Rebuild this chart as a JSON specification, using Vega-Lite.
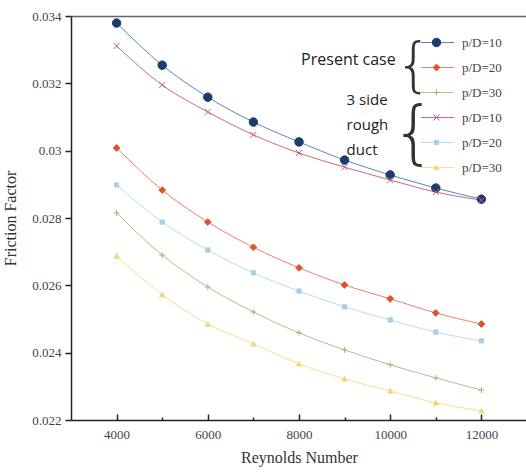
{
  "$schema": "https://vega.github.io/schema/vega-lite/v6.json",
  "autosize": "none",
  "width": 456,
  "height": 404,
  "padding": {"left": 71, "top": 16, "right": 0, "bottom": 53},
  "background": "white",
  "config": {"view": {"stroke": null}},
  "resolve": {"axis": {"x": "independent"}},
  "datasets": {
    "friction": [
      {"Re": 4000, "f": 0.03379, "series": "1 Present p/D=10", "line": "1 Present p/D=10"},
      {"Re": 5000, "f": 0.03254, "series": "1 Present p/D=10", "line": "1 Present p/D=10"},
      {"Re": 6000, "f": 0.03159, "series": "1 Present p/D=10", "line": "1 Present p/D=10"},
      {"Re": 7000, "f": 0.03085, "series": "1 Present p/D=10", "line": "1 Present p/D=10"},
      {"Re": 8000, "f": 0.03026, "series": "1 Present p/D=10", "line": "1 Present p/D=10"},
      {"Re": 9000, "f": 0.02972, "series": "1 Present p/D=10", "line": "1 Present p/D=10"},
      {"Re": 10000, "f": 0.02928, "series": "1 Present p/D=10", "line": "1 Present p/D=10"},
      {"Re": 11000, "f": 0.02889, "series": "1 Present p/D=10", "line": "1 Present p/D=10"},
      {"Re": 12000, "f": 0.02856, "series": "1 Present p/D=10", "line": "1 Present p/D=10"},
      {"Re": 4000, "f": 0.03008, "series": "2 Present p/D=20", "line": "2 Present p/D=20"},
      {"Re": 5000, "f": 0.02883, "series": "2 Present p/D=20", "line": "2 Present p/D=20"},
      {"Re": 6000, "f": 0.02788, "series": "2 Present p/D=20", "line": "2 Present p/D=20"},
      {"Re": 7000, "f": 0.02713, "series": "2 Present p/D=20", "line": "2 Present p/D=20"},
      {"Re": 8000, "f": 0.02652, "series": "2 Present p/D=20", "line": "2 Present p/D=20"},
      {"Re": 9000, "f": 0.02601, "series": "2 Present p/D=20", "line": "2 Present p/D=20"},
      {"Re": 10000, "f": 0.0256, "series": "2 Present p/D=20", "line": "2 Present p/D=20"},
      {"Re": 11000, "f": 0.02518, "series": "2 Present p/D=20", "line": "2 Present p/D=20"},
      {"Re": 12000, "f": 0.02485, "series": "2 Present p/D=20", "line": "2 Present p/D=20"},
      {"Re": 4000, "f": 0.02815, "series": "3 Present p/D=30", "line": "3 Present p/D=30"},
      {"Re": 5000, "f": 0.0269, "series": "3 Present p/D=30", "line": "3 Present p/D=30"},
      {"Re": 6000, "f": 0.02595, "series": "3 Present p/D=30", "line": "3 Present p/D=30"},
      {"Re": 7000, "f": 0.02521, "series": "3 Present p/D=30", "line": "3 Present p/D=30"},
      {"Re": 8000, "f": 0.02459, "series": "3 Present p/D=30", "line": "3 Present p/D=30"},
      {"Re": 9000, "f": 0.02408, "series": "3 Present p/D=30", "line": "3 Present p/D=30"},
      {"Re": 10000, "f": 0.02364, "series": "3 Present p/D=30", "line": "3 Present p/D=30"},
      {"Re": 11000, "f": 0.02325, "series": "3 Present p/D=30", "line": "3 Present p/D=30"},
      {"Re": 12000, "f": 0.02289, "series": "3 Present p/D=30", "line": "3 Present p/D=30"},
      {"Re": 4000, "f": 0.03311, "series": "4 Rough p/D=10", "line": "4 Rough p/D=10"},
      {"Re": 5000, "f": 0.03195, "series": "4 Rough p/D=10", "line": "4 Rough p/D=10"},
      {"Re": 6000, "f": 0.03115, "series": "4 Rough p/D=10", "line": "4 Rough p/D=10"},
      {"Re": 7000, "f": 0.03047, "series": "4 Rough p/D=10", "line": "4 Rough p/D=10"},
      {"Re": 8000, "f": 0.02993, "series": "4 Rough p/D=10", "line": "4 Rough p/D=10"},
      {"Re": 9000, "f": 0.02951, "series": "4 Rough p/D=10", "line": "4 Rough p/D=10"},
      {"Re": 10000, "f": 0.02913, "series": "4 Rough p/D=10", "line": "4 Rough p/D=10"},
      {"Re": 11000, "f": 0.02877, "series": "4 Rough p/D=10", "line": "4 Rough p/D=10"},
      {"Re": 12000, "f": 0.02853, "series": "4 Rough p/D=10", "line": "4 Rough p/D=10"},
      {"Re": 4000, "f": 0.02898, "series": "5 Rough p/D=20", "line": "5 Rough p/D=20"},
      {"Re": 5000, "f": 0.02788, "series": "5 Rough p/D=20", "line": "5 Rough p/D=20"},
      {"Re": 6000, "f": 0.02705, "series": "5 Rough p/D=20", "line": "5 Rough p/D=20"},
      {"Re": 7000, "f": 0.02637, "series": "5 Rough p/D=20", "line": "5 Rough p/D=20"},
      {"Re": 8000, "f": 0.02583, "series": "5 Rough p/D=20", "line": "5 Rough p/D=20"},
      {"Re": 9000, "f": 0.02536, "series": "5 Rough p/D=20", "line": "5 Rough p/D=20"},
      {"Re": 10000, "f": 0.02497, "series": "5 Rough p/D=20", "line": "5 Rough p/D=20"},
      {"Re": 11000, "f": 0.02461, "series": "5 Rough p/D=20", "line": "5 Rough p/D=20"},
      {"Re": 12000, "f": 0.02435, "series": "5 Rough p/D=20", "line": "5 Rough p/D=20"},
      {"Re": 4000, "f": 0.02687, "series": "6 Rough p/D=30", "line": "6 Rough p/D=30"},
      {"Re": 5000, "f": 0.02572, "series": "6 Rough p/D=30", "line": "6 Rough p/D=30"},
      {"Re": 6000, "f": 0.02485, "series": "6 Rough p/D=30", "line": "6 Rough p/D=30"},
      {"Re": 7000, "f": 0.02426, "series": "6 Rough p/D=30", "line": "6 Rough p/D=30"},
      {"Re": 8000, "f": 0.02367, "series": "6 Rough p/D=30", "line": "6 Rough p/D=30"},
      {"Re": 9000, "f": 0.02322, "series": "6 Rough p/D=30", "line": "6 Rough p/D=30"},
      {"Re": 10000, "f": 0.02286, "series": "6 Rough p/D=30", "line": "6 Rough p/D=30"},
      {"Re": 11000, "f": 0.02251, "series": "6 Rough p/D=30", "line": "6 Rough p/D=30"},
      {"Re": 12000, "f": 0.02227, "series": "6 Rough p/D=30", "line": "6 Rough p/D=30"}
    ],
    "notes": [
      {"note": "Present case"},
      {"note": "3 side"},
      {"note": "rough"},
      {"note": "duct"}
    ],
    "brace": [
      {"glyph": "{"}
    ]
  },
  "layer": [
    {
      "data": {"name": "friction"},
      "mark": {"type": "line", "strokeWidth": 1, "interpolate": "monotone"},
      "encoding": {
        "x": {
          "field": "Re", "type": "quantitative",
          "scale": {"domain": [3000, 13000], "nice": false, "zero": false},
          "axis": {
            "orient": "bottom",
            "title": "Reynolds Number",
            "values": [4000, 5000, 6000, 7000, 8000, 9000, 10000, 11000, 12000],
            "format": "d",
            "labelExpr": "datum.value % 2000 === 0 ? datum.label : ''",
            "grid": false,
            "domainColor": "#222", "domainWidth": 1.5,
            "tickColor": "#222", "tickWidth": 1.5,
            "tickSize": {"condition": {"test": "datum.value % 2000 === 0", "value": -6}, "value": -3},
            "labelPadding": 14,
            "labelFont": "Liberation Serif", "labelFontSize": 13, "labelColor": "#444",
            "titleFont": "Liberation Serif", "titleFontSize": 16, "titleFontWeight": "normal", "titleColor": "#333",
            "titlePadding": 8
          }
        },
        "y": {
          "field": "f", "type": "quantitative",
          "scale": {"domain": [0.022, 0.034], "nice": false, "zero": false},
          "axis": {
            "title": "Friction Factor",
            "values": [0.022, 0.023, 0.024, 0.025, 0.026, 0.027, 0.028, 0.029, 0.03, 0.031, 0.032, 0.033, 0.034],
            "format": "~g",
            "labelExpr": "round(datum.value * 1000) % 2 === 0 ? datum.label : ''",
            "grid": false,
            "domainColor": "#222", "domainWidth": 1.5,
            "tickColor": "#222", "tickWidth": 1.5,
            "tickSize": {"condition": {"test": "round(datum.value * 1000) % 2 === 0", "value": 6}, "value": 3},
            "labelPadding": 4,
            "labelFont": "Liberation Serif", "labelFontSize": 13, "labelColor": "#444",
            "titleFont": "Liberation Serif", "titleFontSize": 16, "titleFontWeight": "normal", "titleColor": "#333",
            "titlePadding": 13
          }
        },
        "color": {
          "field": "line", "type": "nominal",
          "scale": {"range": ["#5a86b8", "#e8826a", "#a9c48e", "#c86a86", "#b8dcef", "#f6e08e"]},
          "legend": {
            "orient": "none", "legendX": 349, "legendY": 9, "title": null, "padding": 0,
            "symbolType": "stroke", "symbolSize": 1100, "symbolStrokeWidth": 1,
            "labelExpr": "slice(datum.label, -6)",
            "labelFont": "Liberation Serif", "labelFontSize": 13, "labelColor": "#444",
            "labelOffset": 7, "rowPadding": 0
          }
        }
      }
    },
    {
      "data": {"name": "friction"},
      "mark": {"type": "point", "size": 72, "strokeWidth": 1, "opacity": 1},
      "encoding": {
        "x": {
          "field": "Re", "type": "quantitative",
          "axis": {"orient": "top", "title": null, "labels": false, "ticks": false, "grid": false, "domainColor": "#666", "domainWidth": 1.5}
        },
        "y": {"field": "f", "type": "quantitative"},
        "fill": {
          "field": "series", "type": "nominal",
          "scale": {"range": ["#1b3d6e", "#dc5530", "#9bb57f", "#c65a7e", "#a9cfe6", "#f4d77a"]},
          "legend": {
            "orient": "none", "legendX": 359, "legendY": 20, "title": null, "padding": 0,
            "symbolSize": 72, "symbolStrokeWidth": 1,
            "labelExpr": "''", "labelFont": "Liberation Serif", "labelFontSize": 13,
            "labelOffset": 0, "rowPadding": 11
          }
        },
        "stroke": {
          "field": "series", "type": "nominal",
          "scale": {"range": ["#1b3d6e", "#dc5530", "#9bb57f", "#c65a7e", "#a9cfe6", "#f4d77a"]},
          "legend": {
            "orient": "none", "legendX": 359, "legendY": 20, "title": null, "padding": 0,
            "symbolSize": 72, "symbolStrokeWidth": 1,
            "labelExpr": "''", "labelFont": "Liberation Serif", "labelFontSize": 13,
            "labelOffset": 0, "rowPadding": 11
          }
        },
        "shape": {
          "field": "series", "type": "nominal",
          "scale": {"range": [
            "M-1,0A1,1,0,1,1,1,0A1,1,0,1,1,-1,0Z",
            "M0,-0.8L0.8,0L0,0.8L-0.8,0Z",
            "M-0.7,0H0.7M0,-0.7V0.7",
            "M-0.7,-0.7L0.7,0.7M-0.7,0.7L0.7,-0.7",
            "M-0.5,-0.5H0.5V0.5H-0.5Z",
            "M0,-0.6L0.6,0.5H-0.6Z"
          ]},
          "legend": {
            "orient": "none", "legendX": 359, "legendY": 20, "title": null, "padding": 0,
            "symbolSize": 72, "symbolStrokeWidth": 1,
            "labelExpr": "''", "labelFont": "Liberation Serif", "labelFontSize": 13,
            "labelOffset": 0, "rowPadding": 11
          }
        }
      }
    },
    {
      "data": {"name": "notes"},
      "transform": [{"filter": "datum.note === 'Present case'"}],
      "mark": {"type": "text", "font": "Open Sans", "fontSize": 16, "align": "right", "baseline": "middle", "color": "#222"},
      "encoding": {
        "text": {"field": "note"},
        "x": {"datum": 10121, "type": "quantitative", "axis": null},
        "y": {"datum": 0.03269, "type": "quantitative"}
      }
    },
    {
      "data": {"name": "notes"},
      "transform": [{"filter": "datum.note === '3 side'"}],
      "mark": {"type": "text", "font": "Open Sans", "fontSize": 15, "align": "left", "baseline": "middle", "color": "#222"},
      "encoding": {
        "text": {"field": "note"},
        "x": {"datum": 9044, "type": "quantitative", "axis": null},
        "y": {"datum": 0.0315, "type": "quantitative"}
      }
    },
    {
      "data": {"name": "notes"},
      "transform": [{"filter": "datum.note === 'rough'"}],
      "mark": {"type": "text", "font": "Open Sans", "fontSize": 15, "align": "left", "baseline": "middle", "color": "#222"},
      "encoding": {
        "text": {"field": "note"},
        "x": {"datum": 9044, "type": "quantitative", "axis": null},
        "y": {"datum": 0.03076, "type": "quantitative"}
      }
    },
    {
      "data": {"name": "notes"},
      "transform": [{"filter": "datum.note === 'duct'"}],
      "mark": {"type": "text", "font": "Open Sans", "fontSize": 15, "align": "left", "baseline": "middle", "color": "#222"},
      "encoding": {
        "text": {"field": "note"},
        "x": {"datum": 9044, "type": "quantitative", "axis": null},
        "y": {"datum": 0.03002, "type": "quantitative"}
      }
    },
    {
      "data": {"name": "brace"},
      "mark": {"type": "text", "font": "DejaVu Sans", "fontWeight": 200, "fontSize": 58, "align": "center", "baseline": "middle", "color": "#333"},
      "encoding": {
        "text": {"field": "glyph"},
        "x": {"datum": 10516, "type": "quantitative", "axis": null},
        "y": {"datum": 0.03246, "type": "quantitative"}
      }
    },
    {
      "data": {"name": "brace"},
      "mark": {"type": "text", "font": "DejaVu Sans", "fontWeight": 200, "fontSize": 70, "align": "center", "baseline": "middle", "color": "#333"},
      "encoding": {
        "text": {"field": "glyph"},
        "x": {"datum": 10516, "type": "quantitative", "axis": null},
        "y": {"datum": 0.03047, "type": "quantitative"}
      }
    }
  ]
}
